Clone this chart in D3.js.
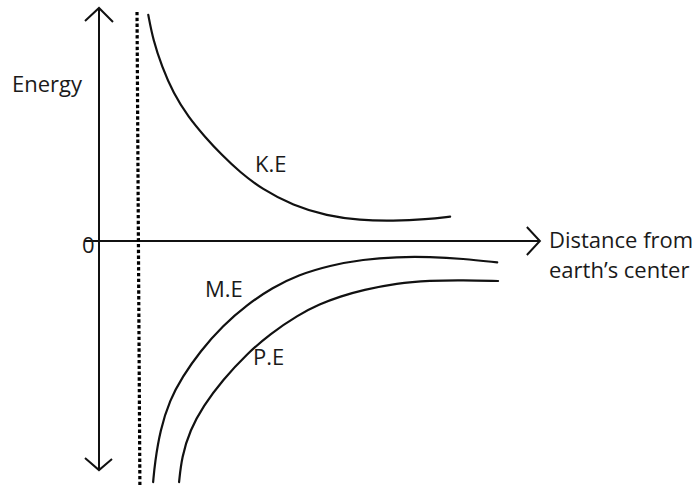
<!DOCTYPE html>
<html>
<head>
<meta charset="utf-8">
<script src="https://cdn.jsdelivr.net/npm/d3@7"></script>
<style>
  html, body { margin: 0; padding: 0; background: #fff; }
  svg { display: block; }
  text { font-family: "Open Sans", "Noto Sans", sans-serif; fill: #1a1a1a; }
</style>
</head>
<body>
<svg id="chart" width="696" height="486"></svg>
<script>
// ---- Data (distance from earth's centre in arbitrary units, energy in arbitrary units) ----
const keDistance = [1.12, 1.23, 1.43, 1.69, 2.03, 2.41, 2.79, 3.20, 3.70, 4.41, 5.18, 5.93, 6.68, 7.45, 7.98];
const keEnergy   = [9.83, 8.74, 7.58, 6.42, 5.39, 4.52, 3.74, 3.00, 2.26, 1.54, 1.09, 0.90, 0.87, 0.94, 1.06];

const meDistance = [1.23, 1.27, 1.39, 1.61, 1.89, 2.30, 2.82, 3.36, 3.95, 4.52, 5.25, 6.00, 6.77, 7.52, 8.27, 9.05];
const meEnergy   = [-10.48, -9.65, -8.22, -6.91, -5.92, -4.79, -3.67, -2.77, -2.02, -1.48, -1.06, -0.80, -0.69, -0.69, -0.77, -0.93];

const peDistance = [1.82, 1.88, 2.07, 2.37, 2.81, 3.36, 3.89, 4.52, 5.02, 5.48, 6.00, 6.77, 7.52, 8.27, 9.07];
const peEnergy   = [-10.48, -9.39, -8.22, -7.17, -6.04, -4.91, -4.04, -3.22, -2.74, -2.41, -2.13, -1.83, -1.72, -1.70, -1.74];

const earthRadius = [0.864, 0.93];       // dashed surface line (top, bottom)
const seriesLabels = ["K.E", "M.E", "P.E"];
const zeroLabel = "0";
const yAxisLabel = "Energy";
const xAxisLabel = ["Distance from", "earth\u2019s center"];

// ---- Scales ----
const svg = d3.select("#chart");
const x = d3.scaleLinear().domain([0, 10]).range([99, 539]);
const y = d3.scaleLinear().domain([-10, 10]).range([471, 11]);

const ink = "#111";

// ---- Axes ----
// vertical double-headed arrow
const vTop = y(10.13), vBot = y(-9.96);
svg.append("line")
  .attr("x1", x(0)).attr("x2", x(0))
  .attr("y1", vTop).attr("y2", vBot)
  .attr("stroke", ink).attr("stroke-width", 2);
svg.append("path")
  .attr("d", `M${x(0) - 14},${vTop + 13} L${x(0)},${vTop} L${x(0) + 14},${vTop + 14}`)
  .attr("fill", "none").attr("stroke", ink).attr("stroke-width", 2);
svg.append("path")
  .attr("d", `M${x(0) - 14},${vBot - 12} L${x(0)},${vBot} L${x(0) + 13},${vBot - 11}`)
  .attr("fill", "none").attr("stroke", ink).attr("stroke-width", 2);

// horizontal arrow
const hStart = x(-0.32), hEnd = x(10.02);
svg.append("line")
  .attr("x1", hStart).attr("x2", hEnd)
  .attr("y1", y(0)).attr("y2", y(0))
  .attr("stroke", ink).attr("stroke-width", 2);
svg.append("path")
  .attr("d", `M${hEnd - 13},${y(0) - 14} L${hEnd},${y(0)} L${hEnd - 13},${y(0) + 14}`)
  .attr("fill", "none").attr("stroke", ink).attr("stroke-width", 2);

// dashed earth-surface line
svg.append("line")
  .attr("x1", x(earthRadius[0])).attr("x2", x(earthRadius[1]))
  .attr("y1", y(9.96)).attr("y2", y(-10.8))
  .attr("stroke", "#000").attr("stroke-width", 3.2)
  .attr("stroke-dasharray", "3.4,2.4");

// ---- Curves ----
const line = d3.line()
  .x(d => x(d[0]))
  .y(d => y(d[1]))
  .curve(d3.curveBasis);

const series = [
  d3.zip(keDistance, keEnergy),
  d3.zip(meDistance, meEnergy),
  d3.zip(peDistance, peEnergy)
];
svg.selectAll("path.curve")
  .data(series)
  .join("path")
  .attr("class", "curve")
  .attr("d", line)
  .attr("fill", "none")
  .attr("stroke", ink)
  .attr("stroke-width", 2.2)
  .attr("stroke-linecap", "round");

// ---- Text ----
const fs = 22;
svg.append("text").attr("x", 12).attr("y", 92).attr("font-size", fs).text(yAxisLabel);
svg.append("text").attr("x", 82).attr("y", 253).attr("font-size", fs).text(zeroLabel);

const labelPos = [[255, 172], [205, 297], [253, 365]];
svg.selectAll("text.series")
  .data(seriesLabels)
  .join("text")
  .attr("class", "series")
  .attr("x", (d, i) => labelPos[i][0])
  .attr("y", (d, i) => labelPos[i][1])
  .attr("font-size", fs)
  .text(d => d);

svg.selectAll("text.xlab")
  .data(xAxisLabel)
  .join("text")
  .attr("class", "xlab")
  .attr("x", 549)
  .attr("y", (d, i) => 248 + i * 30)
  .attr("font-size", fs)
  .text(d => d);
</script>
</body>
</html>
